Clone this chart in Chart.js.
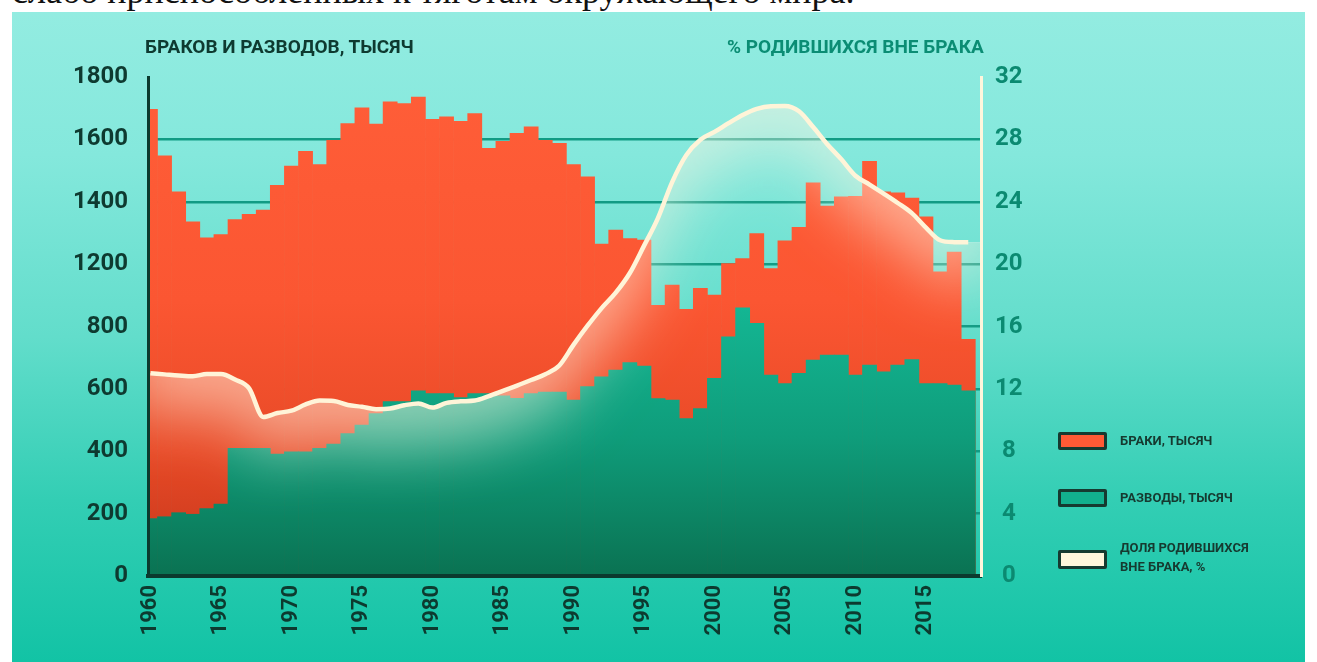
<!DOCTYPE html>
<html lang="ru">
<head>
<meta charset="utf-8">
<title>Браки, разводы и доля родившихся вне брака</title>
<script src="https://cdn.jsdelivr.net/npm/chart.js@4.4.1/dist/chart.umd.min.js"></script>
<style>
  html, body { margin:0; padding:0; width:1317px; height:662px; overflow:hidden; background:#ffffff; }
  #caption { position:absolute; left:12px; top:-27px; font-family:'Liberation Serif','DejaVu Serif',serif; font-size:36px; line-height:36px; color:#111; white-space:nowrap; }
  #panel { position:absolute; left:12px; top:12px; width:1293px; height:650px; overflow:hidden;
           background:linear-gradient(180deg,#93ece1 0%,#84e8dc 22%,#62ddcb 50%,#33ceb4 75%,#12c3a5 100%); }
  #wrap { position:absolute; left:0; top:0; width:1293px; height:650px; }
  .ttl { position:absolute; top:24px; font-family:Roboto, sans-serif; font-weight:700; font-size:19px; line-height:22px; white-space:nowrap; }
  .lg-box { position:absolute; left:1046px; width:43px; height:12px; border:3px solid #163a30; border-radius:2px; }
  .lg-txt { position:absolute; left:1108px; font-family:Roboto, sans-serif; font-weight:700; font-size:13px; line-height:19px; color:#163a30; white-space:nowrap; }
</style>
</head>
<body>
<div id="caption">слабо приспособленных к тяготам окружающего мира.</div>
<div id="panel">
  <div id="wrap"><canvas id="c"></canvas></div>
  <div class="ttl" style="left:133px;color:#0e3a30;">БРАКОВ И РАЗВОДОВ, ТЫСЯЧ</div>
  <div class="ttl" style="left:715px;color:#0b8d74;">% РОДИВШИХСЯ ВНЕ БРАКА</div>
  <div class="lg-box" style="top:420px;background:#ff5a35;"></div>
  <div class="lg-txt" style="top:419px;">БРАКИ, ТЫСЯЧ</div>
  <div class="lg-box" style="top:477px;background:#12b08e;"></div>
  <div class="lg-txt" style="top:476px;">РАЗВОДЫ, ТЫСЯЧ</div>
  <div class="lg-box" style="top:538px;height:13px;background:#fff6dc;"></div>
  <div class="lg-txt" style="top:526px;">ДОЛЯ РОДИВШИХСЯ<br>ВНЕ БРАКА, %</div>
</div>
<script>
// ---- data ----
const years = [1960,1961,1962,1963,1964,1965,1966,1967,1968,1969,
               1970,1971,1972,1973,1974,1975,1976,1977,1978,1979,
               1980,1981,1982,1983,1984,1985,1986,1987,1988,1989,
               1990,1991,1992,1993,1994,1995,1996,1997,1998,1999,
               2000,2001,2002,2003,2004,2005,2006,2007,2008,2009,
               2010,2011,2012,2013,2014,2015,2016,2017,2018];
// marriages, thousand
const marriages = [1496,1347,1232,1136,1084,1095,1143,1160,1173,1253,
                   1314,1362,1319,1397,1451,1501,1449,1520,1515,1536,
                   1464,1472,1458,1483,1371,1394,1419,1440,1397,1387,
                   1319,1280,1064,1109,1082,1077,868,933,855,922,
                   901,1002,1018,1098,986,1075,1118,1261,1186,1216,
                   1217,1330,1232,1229,1212,1152,975,1039,759];
// divorces, thousand
const divorces = [184,190,203,198,216,231,409,409,409,391,
                  398,398,409,423,457,484,521,559,559,594,
                  585,585,572,585,585,578,570,585,590,590,
                  564,607,639,660,684,673,569,564,505,537,
                  634,767,860,810,644,617,650,692,708,708,
                  644,676,655,676,694,617,617,612,594];
// share of births outside marriage, %
const outOfWedlock = [13.0,12.93,12.86,12.81,12.95,12.95,12.6,12.03,10.2,10.45,
                      10.6,11.0,11.25,11.22,10.97,10.85,10.7,10.74,10.95,11.07,
                      10.8,11.1,11.2,11.25,11.53,11.87,12.21,12.57,12.94,13.5,
                      14.82,16.05,17.18,18.17,19.43,21.17,22.97,25.26,26.99,27.98,
                      28.48,29.04,29.57,29.96,30.13,30.14,29.8,28.79,27.69,26.72,
                      25.67,25.1,24.52,23.92,23.27,22.34,21.53,21.41,21.4];
// tick labels as printed on the original
const leftTickLabels = ['0','200','400','600','800','1200','1400','1600','1800'];
const rightTickLabels = ['0','4','8','12','16','20','24','28','32'];

// ---- helpers ----
const gradCache = {};
function vGrad(chart, key, stops) {
  const a = chart.chartArea;
  if (!a) return stops[0][1];
  const k = key + a.top + '_' + a.bottom;
  if (!gradCache[k]) {
    const g = chart.ctx.createLinearGradient(0, a.top, 0, a.bottom);
    stops.forEach(s => g.addColorStop(s[0], s[1]));
    gradCache[k] = g;
  }
  return gradCache[k];
}

const glowPlugin = {
  id: 'glow',
  beforeDatasetDraw(chart, args) {
    if (args.index !== 2) return;
    const meta = args.meta, line = meta.dataset, pts = meta.data;
    if (!line || !pts.length) return;
    const ctx = chart.ctx, a = chart.chartArea;
    line.updateControlPoints(a, 'x');
    const first = pts[0], last = pts[pts.length - 1];
    ctx.save();
    ctx.beginPath(); ctx.rect(a.left, a.top, a.right - a.left, a.bottom - a.top); ctx.clip();
    ctx.beginPath();
    line.path(ctx);
    ctx.lineTo(last.x + 20, last.y);
    ctx.lineTo(last.x + 20, a.bottom + 10);
    ctx.lineTo(first.x - 20, a.bottom + 10);
    ctx.lineTo(first.x - 20, first.y);
    ctx.closePath();
    ctx.clip();
    ctx.beginPath();
    line.path(ctx);
    ctx.lineTo(last.x + 20, last.y);
    ctx.lineTo(last.x + 20, a.top - 600);
    ctx.lineTo(first.x - 20, a.top - 600);
    ctx.lineTo(first.x - 20, first.y);
    ctx.closePath();
    ctx.shadowColor = 'rgba(255,246,228,0.52)';
    ctx.shadowBlur = 60;
    ctx.shadowOffsetY = 40;
    ctx.fillStyle = '#ffffff';
    ctx.fill();
    ctx.restore();
  }
};

const toXY = (vals) => vals.map((v, i) => ({ x: years[i], y: v }));

new Chart(document.getElementById('c'), {
  data: {
    datasets: [
      {
        type: 'bar', label: 'БРАКИ, ТЫСЯЧ', data: toXY(marriages), yAxisID: 'y', order: 2,
        grouped: false, barPercentage: 1, categoryPercentage: 1, borderWidth: 0,
        backgroundColor: (c) => vGrad(c.chart, 'm', [[0, '#ff5e38'], [0.45, '#fb5632'], [0.75, '#e84a27'], [1, '#c4361b']])
      },
      {
        type: 'bar', label: 'РАЗВОДЫ, ТЫСЯЧ', data: toXY(divorces), yAxisID: 'y', order: 1,
        grouped: false, barPercentage: 1, categoryPercentage: 1, borderWidth: 0,
        backgroundColor: (c) => vGrad(c.chart, 'd', [[0, '#16c29d'], [0.45, '#14b794'], [0.72, '#0f9d7b'], [1, '#0a7252']])
      },
      {
        type: 'line', label: 'ДОЛЯ РОДИВШИХСЯ ВНЕ БРАКА, %', data: toXY(outOfWedlock), yAxisID: 'y1', order: 0,
        borderColor: '#fff4d8', borderWidth: 4.5, pointRadius: 0, fill: false,
        cubicInterpolationMode: 'monotone'
      }
    ]
  },
  options: {
    responsive: true, maintainAspectRatio: false, animation: false,
    layout: { padding: { top: 65, left: 0, right: 264, bottom: 0 } },
    plugins: { legend: { display: false }, tooltip: { enabled: false } },
    scales: {
      x: {
        type: 'linear', min: 1959.826, max: 2018.904, offset: false,
        grid: { display: false, drawTicks: false },
        border: { display: true, color: '#0b3a2e', width: 4, z: 2 },
        ticks: {
          stepSize: 5, includeBounds: false, autoSkip: false, minRotation: 90, maxRotation: 90,
          padding: 9, color: '#0d3a2f', font: { family: 'Roboto', weight: '700', size: 22 },
          callback: (v) => String(v)
        },
        afterFit: (s) => { s.height = 86; }
      },
      y: {
        position: 'left', min: 0, max: 1600,
        grid: {
          drawTicks: false, lineWidth: 2.5,
          color: (c) => (c.tick && (c.tick.value === 0 || c.tick.value === 1600)) ? 'rgba(0,0,0,0)' : '#119b84'
        },
        border: { display: true, color: '#0b3a2e', width: 3, z: 2 },
        ticks: {
          stepSize: 200, padding: 20, color: '#0e3a30',
          font: { family: 'Roboto', weight: '700', size: 24 },
          callback: (v, i) => leftTickLabels[i]
        },
        afterFit: (s) => { s.width = 136; }
      },
      y1: {
        position: 'right', min: 0, max: 32,
        grid: { display: false, drawTicks: false },
        border: { display: true, color: '#fff6dc', width: 3, z: 2 },
        ticks: {
          stepSize: 4, padding: 14, crossAlign: 'center', color: '#0b8a71',
          font: { family: 'Roboto', weight: '700', size: 24 },
          callback: (v, i) => rightTickLabels[i]
        },
        afterFit: (s) => { s.width = 60; }
      }
    }
  },
  plugins: [glowPlugin]
});
</script>
</body>
</html>
